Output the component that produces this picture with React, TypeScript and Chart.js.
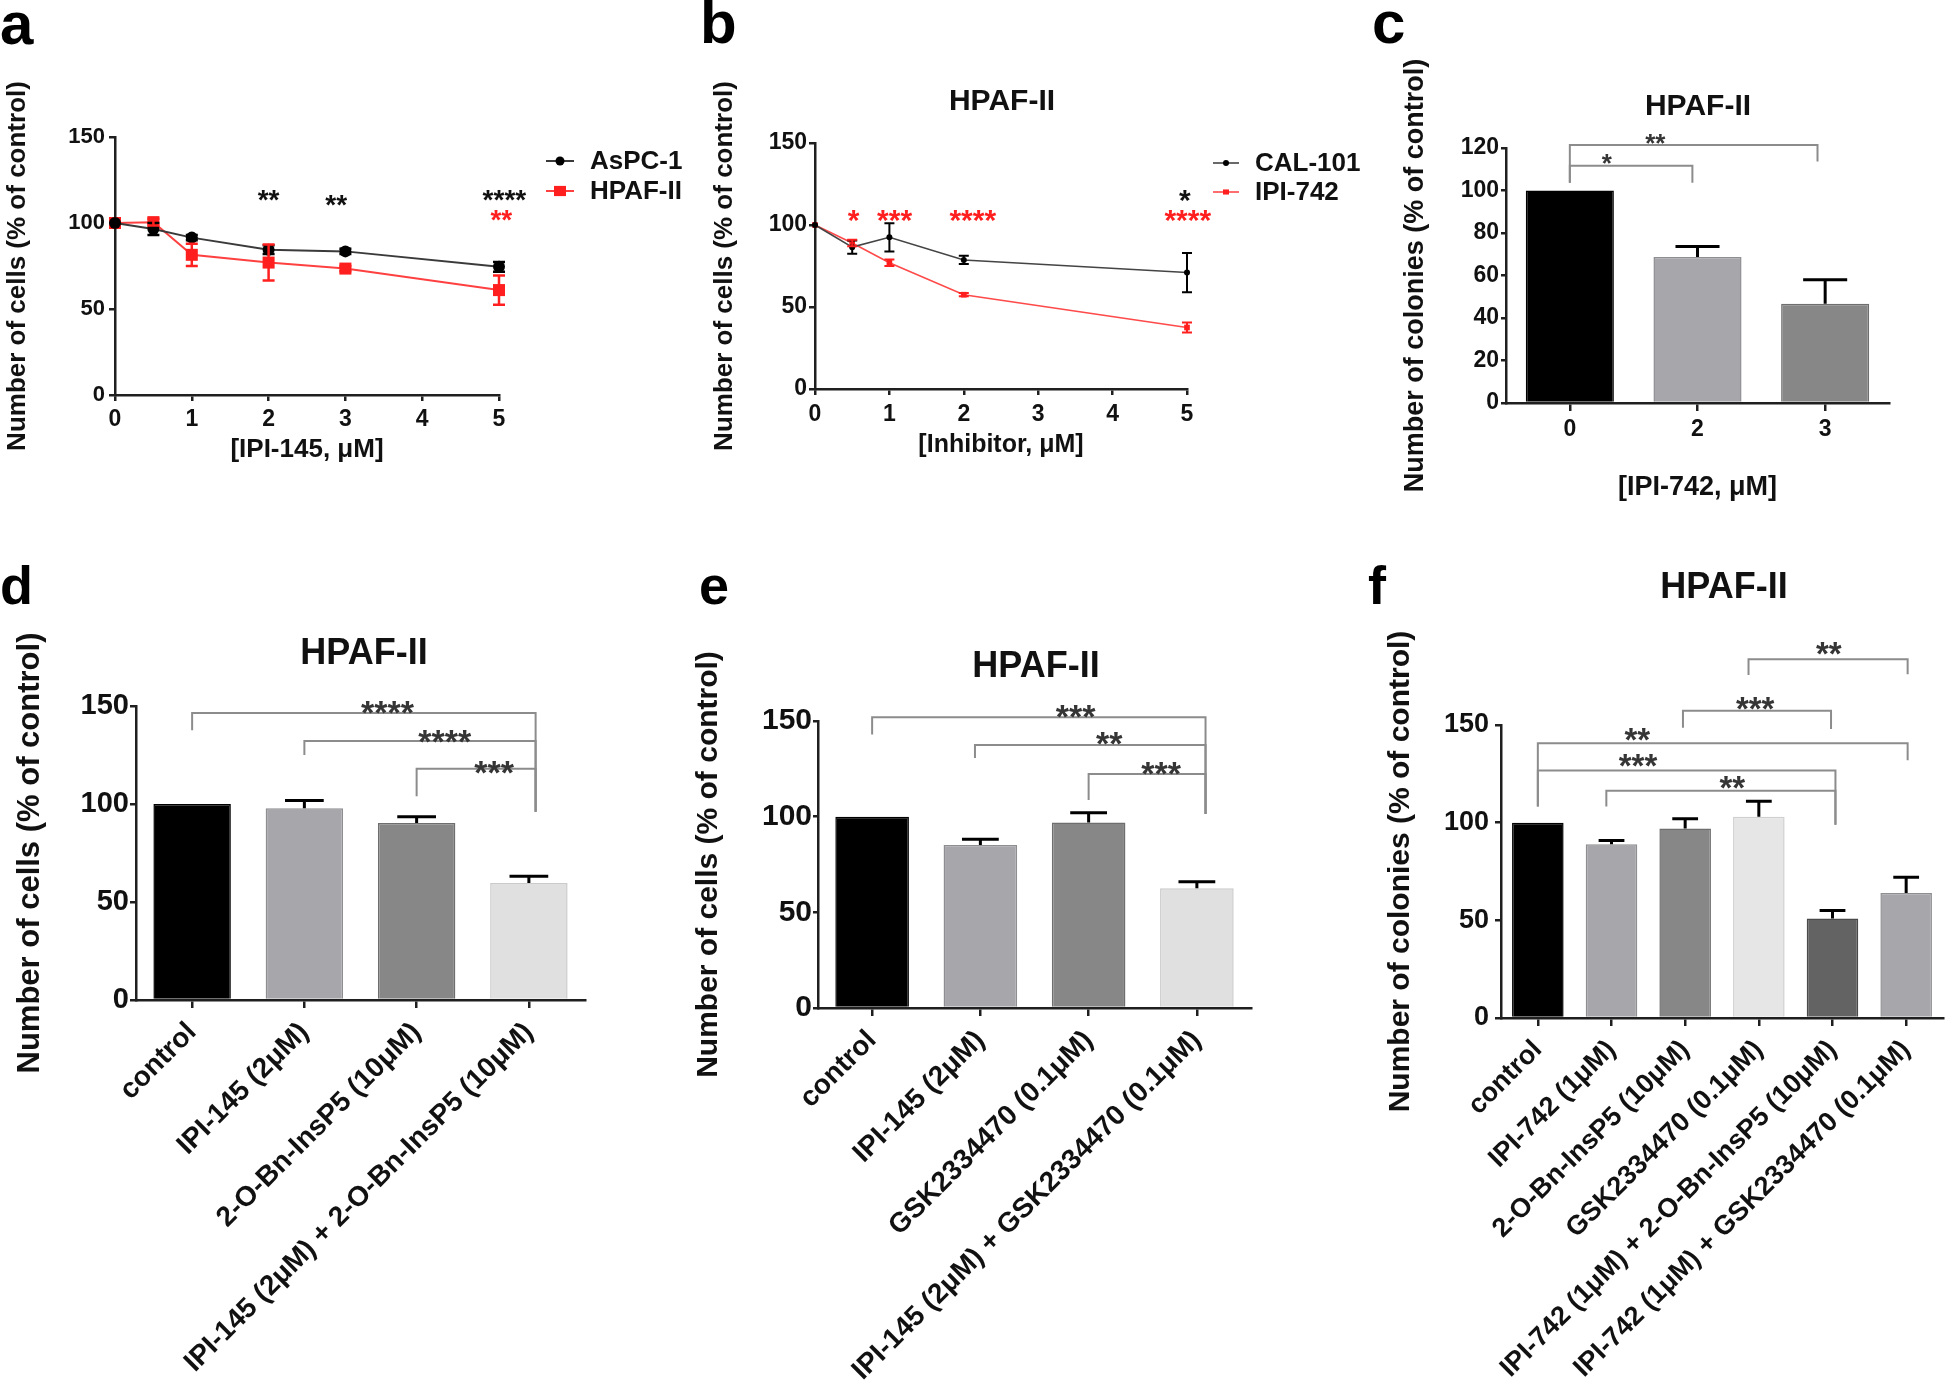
import React, { useEffect, useRef } from 'react';
import { Chart, registerables } from 'chart.js';

Chart.register(...registerables);

const FONT = "'Liberation Sans', Arial, Helvetica, sans-serif";
const INK = '#111111';
const AXIS = '#1f1f1f';
const RED = '#ff1f1f';
const BRACKET = '#8c8c8c';
const STAR = '#353535';

// ---------------- data ----------------
// panel a
const aDoses = [0, 0.5, 1, 2, 3, 5];
const aAspc1 = [100, 96.5, 91.5, 84.5, 83.5, 74.5];
const aAspc1Err = [0, 3.5, 1.5, 2.5, 1.5, 2.8];
const aHpaf = [100, 100.5, 81.5, 77, 73.5, 61];
const aHpafErr = [0, 2, 6.5, 10.5, 1.5, 8.5];
const aXTicks = [0, 1, 2, 3, 4, 5];
const aYTicks = [0, 50, 100, 150];
const aStars = [
  { x: 2, y: 117.4, text: '**', color: INK },
  { x: 2.88, y: 114.5, text: '**', color: INK },
  { x: 5.07, y: 117.4, text: '****', color: INK },
  { x: 5.03, y: 105.8, text: '**', color: RED },
];

// panel b
const bDoses = [0, 0.5, 1, 2, 5];
const bCal = [100, 86.5, 92.5, 78.7, 71];
const bCalErr = [0, 4, 8.6, 2.5, 12];
const bIpi = [100, 89, 77, 57.5, 37.5];
const bIpiErr = [0, 2, 2, 1, 3];
const bXTicks = [0, 1, 2, 3, 4, 5];
const bYTicks = [0, 50, 100, 150];
const bStars = [
  { x: 0.52, y: 107.3, text: '*', color: RED },
  { x: 1.07, y: 107.3, text: '***', color: RED },
  { x: 2.12, y: 107.3, text: '****', color: RED },
  { x: 5.01, y: 107.3, text: '****', color: RED },
  { x: 4.97, y: 119.5, text: '*', color: INK },
];

// panel c
const cLabels = ['0', '2', '3'];
const cMeans = [100, 68.7, 46.7];
const cErr = [0, 5, 11.3];
const cYTicks = [0, 20, 40, 60, 80, 100, 120];
const cBrackets = [
  [0, 0.96, 111.7, 103.7, 103.7],
  [0, 1.94, 121.4, 103.7, 113.6],
];
const cStars = [
  { x: 0.29, y: 115.8, text: '*', color: STAR },
  { x: 0.67, y: 125.2, text: '**', color: STAR },
];

// panel d
const dLabels = ['control', 'IPI-145 (2μM)', '2-O-Bn-InsP5 (10μM)', 'IPI-145 (2μM) + 2-O-Bn-InsP5 (10μM)'];
const dMeans = [100, 97.8, 90.3, 59.7];
const dErr = [0, 4, 3.2, 3.5];
const dYTicks = [0, 50, 100, 150];
const dBrackets = [
  [0, 3.06, 146.4, 137.6, 96],
  [1, 3.06, 132.2, 125, 96],
  [2, 3.06, 118, 104, 96],
];
const dStars = [
  { x: 1.74, y: 151, text: '****', color: STAR },
  { x: 2.25, y: 136.2, text: '****', color: STAR },
  { x: 2.69, y: 120.2, text: '***', color: STAR },
];

// panel e
const eLabels = ['control', 'IPI-145 (2μM)', 'GSK2334470 (0.1μM)', 'IPI-145 (2μM) + GSK2334470 (0.1μM)'];
const eMeans = [100, 85.2, 97, 62.6];
const eErr = [0, 3, 5, 3.4];
const eYTicks = [0, 50, 100, 150];
const eBrackets = [
  [0, 3.08, 152, 143, 101.4],
  [0.95, 3.08, 137.5, 130.7, 101.4],
  [2, 3.08, 122.3, 108.7, 101.4],
];
const eStars = [
  { x: 1.88, y: 156.8, text: '***', color: STAR },
  { x: 2.19, y: 142.4, text: '**', color: STAR },
  { x: 2.67, y: 126.8, text: '***', color: STAR },
];

// panel f
const fLabels = [
  'control',
  'IPI-742 (1μM)',
  '2-O-Bn-InsP5 (10μM)',
  'GSK2334470 (0.1μM)',
  'IPI-742 (1μM) + 2-O-Bn-InsP5 (10μM)',
  'IPI-742 (1μM) + GSK2334470 (0.1μM)',
];
const fMeans = [100, 89, 97, 103, 51, 64];
const fErr = [0, 1.9, 5, 8, 4, 8];
const fYTicks = [0, 50, 100, 150];
const fBrackets = [
  [2.86, 5.02, 183.6, 175.6, 176],
  [1.97, 3.98, 157.3, 148.6, 148],
  [0, 5.02, 140.6, 108.3, 132],
  [0, 4.04, 126.7, 108.3, 98.9],
  [0.93, 4.04, 116.4, 108.3, 98.9],
];
const fStars = [
  { x: 3.95, y: 190.4, text: '**', color: STAR },
  { x: 2.95, y: 162.3, text: '***', color: STAR },
  { x: 1.35, y: 146.4, text: '**', color: STAR },
  { x: 1.36, y: 133.1, text: '***', color: STAR },
  { x: 2.64, y: 122, text: '**', color: STAR },
];

// ---------------- styles ----------------
const bar4Fill = ['#000000', '#a7a7ab', '#878787', '#e0e0e0'];
const bar4Edge = ['#000000', '#8e8e92', '#6e6e6e', '#cacaca'];
const bar3Fill = ['#000000', '#a7a7ab', '#878787'];
const bar3Edge = ['#000000', '#8e8e92', '#6e6e6e'];
const bar6Fill = ['#000000', '#a7a7ab', '#878787', '#e6e6e6', '#636363', '#a7a7ab'];
const bar6Edge = ['#000000', '#8e8e92', '#6e6e6e', '#cfcfcf', '#4a4a4a', '#8e8e92'];

type Box = { x: number; y: number; w: number; h: number };
type Area = { l: number; t: number; r: number; b: number };

function fnt(size: number) {
  return { family: FONT, size, weight: 'bold' as const, lineHeight: 1.2 };
}

function frame(box: Box, area: Area, yTitleX: number, yTitleSize: number, xHeight: number) {
  const padLeft = yTitleX - box.x - (yTitleSize * 1.2) / 2;
  return {
    padding: {
      left: padLeft,
      top: area.t - box.y,
      right: box.x + box.w - area.r,
      bottom: box.y + box.h - area.b - xHeight,
    },
    yWidth: area.l - box.x - padLeft,
    xHeight,
  };
}
function xHeightFor(area: Area, xTitleY: number, size: number) {
  return xTitleY - area.b + size * 0.6;
}

function gridOpts(tl: number) {
  return { drawOnChartArea: false, drawTicks: true, tickLength: tl, color: AXIS, lineWidth: 2.5, offset: false };
}
const border = { display: true, color: AXIS, width: 2.5 };

function yAxis(max: number, ticks: number[], width: number, tickSize: number, pad: number, tl: number, title: string, titleSize: number) {
  return {
    type: 'linear',
    min: 0,
    max,
    afterFit: (s: any) => {
      s.width = width;
    },
    afterBuildTicks: (s: any) => {
      s.ticks = ticks.map((v) => ({ value: v }));
    },
    ticks: { font: fnt(tickSize), color: INK, padding: pad },
    grid: gridOpts(tl),
    border,
    title: { display: true, text: title, font: fnt(titleSize), color: INK, padding: 0 },
  };
}

function linearX(max: number, ticks: number[], height: number, tickSize: number, pad: number, title: string, titleSize: number) {
  return {
    type: 'linear',
    min: 0,
    max,
    afterFit: (s: any) => {
      s.height = height;
    },
    afterBuildTicks: (s: any) => {
      s.ticks = ticks.map((v) => ({ value: v }));
    },
    ticks: { font: fnt(tickSize), color: INK, padding: pad },
    grid: gridOpts(6),
    border,
    title: { display: true, text: title, font: fnt(titleSize), color: INK, padding: 0 },
  };
}

function categoryX(height: number, tickSize: number, pad: number, rotation: number, title?: string, titleSize?: number) {
  return {
    type: 'category',
    offset: true,
    afterFit: (s: any) => {
      s.height = height;
    },
    ticks: { font: fnt(tickSize), color: INK, padding: pad, minRotation: rotation, maxRotation: rotation, autoSkip: false },
    grid: gridOpts(8),
    border,
    title: title
      ? { display: true, text: title, font: fnt(titleSize || 20), color: INK, padding: 0 }
      : { display: false },
  };
}

function baseOptions(f: any, scales: any) {
  return {
    responsive: false,
    animation: false,
    events: [],
    devicePixelRatio: 1,
    layout: { padding: f.padding, autoPadding: false },
    plugins: { legend: { display: false }, tooltip: { enabled: false }, title: { display: false } },
    scales,
  };
}

function overlay(box: Box, o: any) {
  return {
    id: 'overlay',
    afterDatasetsDraw(chart: any) {
      const ctx = chart.ctx;
      const ys = chart.scales.y;
      ctx.save();
      ctx.lineCap = 'butt';
      if (o.barErr) {
        const meta = chart.getDatasetMeta(0);
        ctx.strokeStyle = '#000';
        ctx.lineWidth = 3;
        meta.data.forEach((el: any, i: number) => {
          const e = o.barErr.errs[i];
          if (!e) return;
          const m = o.barErr.means[i];
          const x = el.x;
          const y0 = ys.getPixelForValue(m);
          const y1 = ys.getPixelForValue(m + e);
          const hw = el.width * 0.25;
          ctx.beginPath();
          ctx.moveTo(x, y0);
          ctx.lineTo(x, y1);
          ctx.moveTo(x - hw, y1);
          ctx.lineTo(x + hw, y1);
          ctx.stroke();
        });
      }
      if (o.lineErr) {
        o.lineErr.series.forEach((s: any, di: number) => {
          const meta = chart.getDatasetMeta(di);
          ctx.strokeStyle = s.color;
          ctx.lineWidth = o.lineErr.width;
          meta.data.forEach((el: any, i: number) => {
            const e = s.errs[i];
            if (!e) return;
            const yA = ys.getPixelForValue(s.means[i] + e);
            const yB = ys.getPixelForValue(s.means[i] - e);
            const hw = o.lineErr.cap;
            ctx.beginPath();
            ctx.moveTo(el.x, yA);
            ctx.lineTo(el.x, yB);
            ctx.moveTo(el.x - hw, yA);
            ctx.lineTo(el.x + hw, yA);
            ctx.moveTo(el.x - hw, yB);
            ctx.lineTo(el.x + hw, yB);
            ctx.stroke();
          });
        });
      }
      ctx.restore();
    },
    afterDraw(chart: any) {
      const ctx = chart.ctx;
      const xs = chart.scales.x;
      const ys = chart.scales.y;
      ctx.save();
      // panel letter
      ctx.fillStyle = '#000';
      ctx.textAlign = 'left';
      ctx.textBaseline = 'alphabetic';
      ctx.font = `bold ${o.letter.size}px ${FONT}`;
      ctx.fillText(o.letter.text, o.letter.x - box.x, o.letter.y - box.y);
      // title
      if (o.title) {
        ctx.font = `bold ${o.title.size}px ${FONT}`;
        ctx.textAlign = 'center';
        ctx.textBaseline = 'middle';
        ctx.fillStyle = INK;
        ctx.fillText(o.title.text, o.title.x - box.x, o.title.y - box.y);
      }
      // brackets
      if (o.brackets) {
        ctx.strokeStyle = BRACKET;
        ctx.lineWidth = 2;
        ctx.lineJoin = 'miter';
        for (const [a, b, lvl, la, lb] of o.brackets) {
          const xa = xs.getPixelForValue(a);
          const xb = xs.getPixelForValue(b);
          const yl = ys.getPixelForValue(lvl);
          ctx.beginPath();
          ctx.moveTo(xa, ys.getPixelForValue(la));
          ctx.lineTo(xa, yl);
          ctx.lineTo(xb, yl);
          ctx.lineTo(xb, ys.getPixelForValue(lb));
          ctx.stroke();
        }
      }
      // stars
      if (o.stars) {
        ctx.font = `bold ${o.starSize}px ${FONT}`;
        ctx.textAlign = 'center';
        ctx.textBaseline = 'alphabetic';
        for (const s of o.stars) {
          ctx.fillStyle = s.color;
          ctx.fillText(s.text, xs.getPixelForValue(s.x), ys.getPixelForValue(s.y) + 0.575 * o.starSize);
        }
      }
      // legend
      if (o.legend) {
        const L = o.legend;
        ctx.font = `bold ${L.size}px ${FONT}`;
        ctx.textAlign = 'left';
        ctx.textBaseline = 'middle';
        L.rows.forEach((row: any) => {
          const ds = chart.data.datasets[row.ds];
          const y = row.y - box.y;
          ctx.strokeStyle = ds.borderColor;
          ctx.lineWidth = L.lineWidth;
          ctx.beginPath();
          ctx.moveTo(L.x1 - box.x, y);
          ctx.lineTo(L.x2 - box.x, y);
          ctx.stroke();
          ctx.fillStyle = ds.pointBackgroundColor;
          const mx = L.mx - box.x;
          if (row.shape === 'circle') {
            ctx.beginPath();
            ctx.arc(mx, y, row.r, 0, Math.PI * 2);
            ctx.fill();
          } else {
            ctx.fillRect(mx - row.r, y - row.r * 0.85, row.r * 2, row.r * 1.7);
          }
          ctx.fillStyle = INK;
          ctx.fillText(ds.label, L.tx - box.x, y + 1);
        });
      }
      ctx.restore();
    },
  };
}

// ---------------- panel configs ----------------
const aBox: Box = { x: 0, y: 0, w: 700, h: 480 };
const aArea: Area = { l: 115, t: 137, r: 499, b: 395 };
function makeA() {
  const f = frame(aBox, aArea, 18, 26, xHeightFor(aArea, 450, 26));
  return {
    type: 'line',
    data: {
      datasets: [
        {
          label: 'AsPC-1',
          data: aDoses.map((x, i) => ({ x, y: aAspc1[i] })),
          borderColor: '#3a3a3a',
          borderWidth: 2,
          pointStyle: 'circle',
          pointRadius: 6,
          pointBackgroundColor: '#000000',
          pointBorderColor: '#000000',
          pointBorderWidth: 0,
          clip: false,
        },
        {
          label: 'HPAF-II',
          data: aDoses.map((x, i) => ({ x, y: aHpaf[i] })),
          borderColor: '#ff4040',
          borderWidth: 2,
          pointStyle: 'rect',
          pointRadius: 8.5,
          pointBackgroundColor: RED,
          pointBorderColor: RED,
          pointBorderWidth: 0,
          clip: false,
        },
      ],
    },
    options: baseOptions(f, {
      x: linearX(5, aXTicks, f.xHeight, 23, 5, '[IPI-145, μM]', 26),
      y: yAxis(150, aYTicks, f.yWidth, 22, 4, 6, 'Number of cells (% of control)', 26),
    }),
    plugins: [
      overlay(aBox, {
        letter: { text: 'a', x: 0, y: 44, size: 60 },
        stars: aStars,
        starSize: 28,
        lineErr: {
          series: [
            { means: aAspc1, errs: aAspc1Err, color: '#000000' },
            { means: aHpaf, errs: aHpafErr, color: RED },
          ],
          cap: 6,
          width: 2.5,
        },
        legend: {
          x1: 546,
          x2: 574,
          mx: 560,
          tx: 590,
          size: 26,
          lineWidth: 2,
          rows: [
            { ds: 0, y: 161, shape: 'circle', r: 4.5 },
            { ds: 1, y: 191, shape: 'rect', r: 6 },
          ],
        },
      }),
    ],
  };
}

const bBox: Box = { x: 700, y: 0, w: 680, h: 480 };
const bArea: Area = { l: 815, t: 143, r: 1187, b: 389 };
function makeB() {
  const f = frame(bBox, bArea, 725, 26, xHeightFor(bArea, 445, 25));
  return {
    type: 'line',
    data: {
      datasets: [
        {
          label: 'CAL-101',
          data: bDoses.map((x, i) => ({ x, y: bCal[i] })),
          borderColor: '#444444',
          borderWidth: 1.6,
          pointStyle: 'circle',
          pointRadius: 3,
          pointBackgroundColor: '#000000',
          pointBorderColor: '#000000',
          pointBorderWidth: 0,
          clip: false,
        },
        {
          label: 'IPI-742',
          data: bDoses.map((x, i) => ({ x, y: bIpi[i] })),
          borderColor: '#ff4a4a',
          borderWidth: 1.6,
          pointStyle: 'rect',
          pointRadius: 4,
          pointBackgroundColor: RED,
          pointBorderColor: RED,
          pointBorderWidth: 0,
          clip: false,
        },
      ],
    },
    options: baseOptions(f, {
      x: linearX(5, bXTicks, f.xHeight, 23, 6, '[Inhibitor, μM]', 25),
      y: yAxis(150, bYTicks, f.yWidth, 23, 2, 6, 'Number of cells (% of control)', 26),
    }),
    plugins: [
      overlay(bBox, {
        letter: { text: 'b', x: 700, y: 43, size: 60 },
        title: { text: 'HPAF-II', x: 1002, y: 102, size: 30 },
        stars: bStars,
        starSize: 30,
        lineErr: {
          series: [
            { means: bCal, errs: bCalErr, color: '#000000' },
            { means: bIpi, errs: bIpiErr, color: RED },
          ],
          cap: 5,
          width: 2,
        },
        legend: {
          x1: 1213,
          x2: 1239,
          mx: 1226,
          tx: 1255,
          size: 26,
          lineWidth: 1.6,
          rows: [
            { ds: 0, y: 163, shape: 'circle', r: 3 },
            { ds: 1, y: 192, shape: 'rect', r: 3 },
          ],
        },
      }),
    ],
  };
}

const cBox: Box = { x: 1370, y: 0, w: 576, h: 520 };
const cArea: Area = { l: 1506, t: 148, r: 1889, b: 403 };
function makeC() {
  const f = frame(cBox, cArea, 1416, 27, xHeightFor(cArea, 488, 27));
  return {
    type: 'bar',
    data: {
      labels: cLabels,
      datasets: [
        {
          data: cMeans,
          backgroundColor: bar3Fill,
          borderColor: bar3Edge,
          borderWidth: 1.5,
          barPercentage: 0.69,
          categoryPercentage: 1,
        },
      ],
    },
    options: baseOptions(f, {
      x: categoryX(f.xHeight, 23, 5, 0, '[IPI-742, μM]', 27),
      y: yAxis(120, cYTicks, f.yWidth, 23, 2, 5, 'Number of colonies (% of control)', 27),
    }),
    plugins: [
      overlay(cBox, {
        letter: { text: 'c', x: 1372, y: 43, size: 60 },
        title: { text: 'HPAF-II', x: 1698, y: 107, size: 30 },
        brackets: cBrackets,
        stars: cStars,
        starSize: 26,
        barErr: { means: cMeans, errs: cErr },
      }),
    ],
  };
}

const dBox: Box = { x: 0, y: 560, w: 660, h: 834 };
const dArea: Area = { l: 136, t: 706, r: 585, b: 1000 };
function makeD() {
  const f = frame(dBox, dArea, 30, 31, dBox.y + dBox.h - dArea.b);
  return {
    type: 'bar',
    data: {
      labels: dLabels,
      datasets: [
        {
          data: dMeans,
          backgroundColor: bar4Fill,
          borderColor: bar4Edge,
          borderWidth: 1.5,
          barPercentage: 0.69,
          categoryPercentage: 1,
        },
      ],
    },
    options: baseOptions(f, {
      x: categoryX(f.xHeight, 28, 8, 45),
      y: yAxis(150, dYTicks, f.yWidth, 29, 1, 6, 'Number of cells (% of control)', 31),
    }),
    plugins: [
      overlay(dBox, {
        letter: { text: 'd', x: 0, y: 604, size: 54 },
        title: { text: 'HPAF-II', x: 364, y: 654, size: 36 },
        brackets: dBrackets,
        stars: dStars,
        starSize: 34,
        barErr: { means: dMeans, errs: dErr },
      }),
    ],
  };
}

const eBox: Box = { x: 660, y: 560, w: 700, h: 834 };
const eArea: Area = { l: 818, t: 721, r: 1251, b: 1008 };
function makeE() {
  const f = frame(eBox, eArea, 709, 30, eBox.y + eBox.h - eArea.b);
  return {
    type: 'bar',
    data: {
      labels: eLabels,
      datasets: [
        {
          data: eMeans,
          backgroundColor: bar4Fill,
          borderColor: bar4Edge,
          borderWidth: 1.5,
          barPercentage: 0.68,
          categoryPercentage: 1,
        },
      ],
    },
    options: baseOptions(f, {
      x: categoryX(f.xHeight, 28, 8, 45),
      y: yAxis(150, eYTicks, f.yWidth, 30, 1, 5, 'Number of cells (% of control)', 30),
    }),
    plugins: [
      overlay(eBox, {
        letter: { text: 'e', x: 699, y: 604, size: 54 },
        title: { text: 'HPAF-II', x: 1036, y: 667, size: 36 },
        brackets: eBrackets,
        stars: eStars,
        starSize: 34,
        barErr: { means: eMeans, errs: eErr },
      }),
    ],
  };
}

const fBox: Box = { x: 1360, y: 560, w: 586, h: 834 };
const fArea: Area = { l: 1501, t: 725, r: 1943, b: 1018 };
function makeF() {
  const f = frame(fBox, fArea, 1401, 30, fBox.y + fBox.h - fArea.b);
  return {
    type: 'bar',
    data: {
      labels: fLabels,
      datasets: [
        {
          data: fMeans,
          backgroundColor: bar6Fill,
          borderColor: bar6Edge,
          borderWidth: 1.5,
          barPercentage: 0.7,
          categoryPercentage: 1,
        },
      ],
    },
    options: baseOptions(f, {
      x: categoryX(f.xHeight, 27, 8, 45),
      y: yAxis(150, fYTicks, f.yWidth, 27, 6, 6, 'Number of colonies (% of control)', 30),
    }),
    plugins: [
      overlay(fBox, {
        letter: { text: 'f', x: 1368, y: 604, size: 54 },
        title: { text: 'HPAF-II', x: 1724, y: 588, size: 36 },
        brackets: fBrackets,
        stars: fStars,
        starSize: 33,
        barErr: { means: fMeans, errs: fErr },
      }),
    ],
  };
}

function Panel({ box, make }: { box: Box; make: () => any }) {
  const ref = useRef<HTMLCanvasElement | null>(null);
  useEffect(() => {
    const canvas = ref.current;
    if (!canvas) return;
    const chart = new Chart(canvas, make());
    return () => chart.destroy();
  }, []);
  return (
    <canvas
      ref={ref}
      width={box.w}
      height={box.h}
      style={{ position: 'absolute', left: box.x, top: box.y, width: box.w + 'px', height: box.h + 'px' }}
    />
  );
}

export default function App() {
  return (
    <div
      style={{
        position: 'absolute',
        left: 0,
        top: 0,
        width: 1946,
        height: 1394,
        background: '#ffffff',
        overflow: 'hidden',
      }}
    >
      <Panel box={aBox} make={makeA} />
      <Panel box={bBox} make={makeB} />
      <Panel box={cBox} make={makeC} />
      <Panel box={dBox} make={makeD} />
      <Panel box={eBox} make={makeE} />
      <Panel box={fBox} make={makeF} />
    </div>
  );
}
